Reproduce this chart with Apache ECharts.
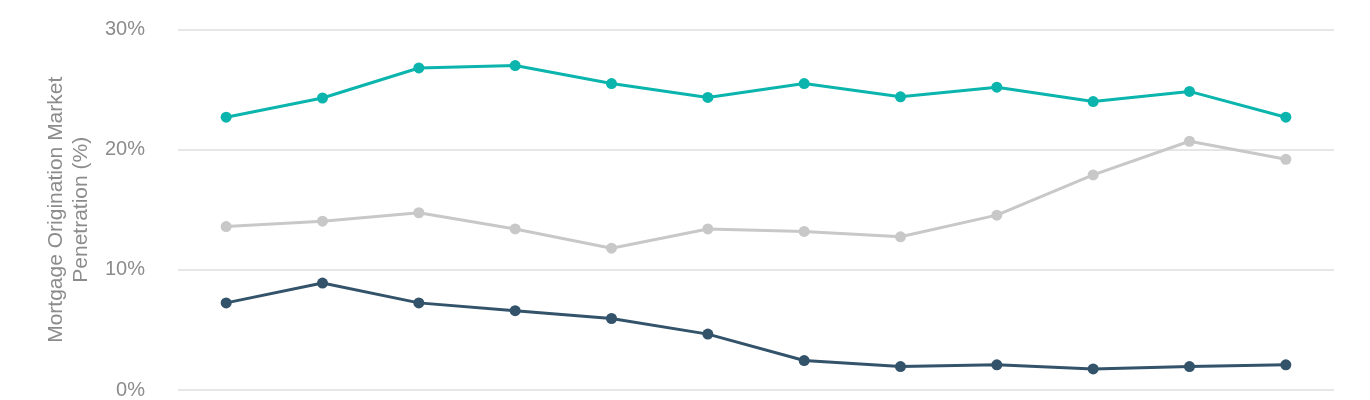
<!DOCTYPE html>
<html>
<head>
<meta charset="utf-8">
<script src="https://cdn.jsdelivr.net/npm/echarts@6/dist/echarts.min.js"></script>
<style>
  html, body { margin: 0; padding: 0; background: #fff; }
  #chart { width: 1370px; height: 400px; }
</style>
</head>
<body>
<div id="chart"></div>
<script>
  // periods (no labels shown on the x axis)
  var periods = ['P1', 'P2', 'P3', 'P4', 'P5', 'P6', 'P7', 'P8', 'P9', 'P10', 'P11', 'P12'];
  var tealSeries = [22.7, 24.3, 26.8, 27.0, 25.5, 24.35, 25.5, 24.4, 25.2, 24.0, 24.85, 22.7];
  var graySeries = [13.6, 14.05, 14.75, 13.4, 11.8, 13.4, 13.2, 12.75, 14.55, 17.9, 20.7, 19.2];
  var darkSeries = [7.25, 8.9, 7.25, 6.6, 5.95, 4.65, 2.45, 1.95, 2.1, 1.75, 1.95, 2.1];
  var yTicks = [0, 10, 20, 30];

  var chart = echarts.init(document.getElementById('chart'));

  function lineSeries(name, data, color) {
    return {
      name: name,
      type: 'line',
      data: data,
      symbol: 'circle',
      symbolSize: 11,
      lineStyle: { color: color, width: 3 },
      itemStyle: { color: color },
      emphasis: { disabled: true }
    };
  }

  chart.setOption({
    animation: false,
    grid: { left: 178, right: 36, top: 29.5, bottom: 8.5 },
    xAxis: {
      type: 'category',
      data: periods,
      boundaryGap: true,
      axisLine: { show: false },
      axisTick: { show: false },
      axisLabel: { show: false }
    },
    yAxis: {
      type: 'value',
      min: yTicks[0],
      max: yTicks[yTicks.length - 1],
      interval: 10,
      name: 'Mortgage Origination Market\nPenetration (%)',
      nameLocation: 'middle',
      nameGap: 80,
      nameTextStyle: {
        color: '#8c8c8c',
        fontSize: 21,
        fontFamily: 'Liberation Sans',
        lineHeight: 25
      },
      axisLine: { show: false },
      axisTick: { show: false },
      axisLabel: {
        formatter: '{value}%',
        color: '#8c8c8c',
        fontSize: 20,
        fontFamily: 'Liberation Sans',
        margin: 33,
        padding: [0, 0, 8, 0]
      },
      splitLine: { lineStyle: { color: '#e6e6e6', width: 2 } }
    },
    series: [
      lineSeries('Teal', tealSeries, '#0bb5ad'),
      lineSeries('Gray', graySeries, '#c8c8c8'),
      lineSeries('Dark', darkSeries, '#33536b')
    ]
  });
</script>
</body>
</html>
